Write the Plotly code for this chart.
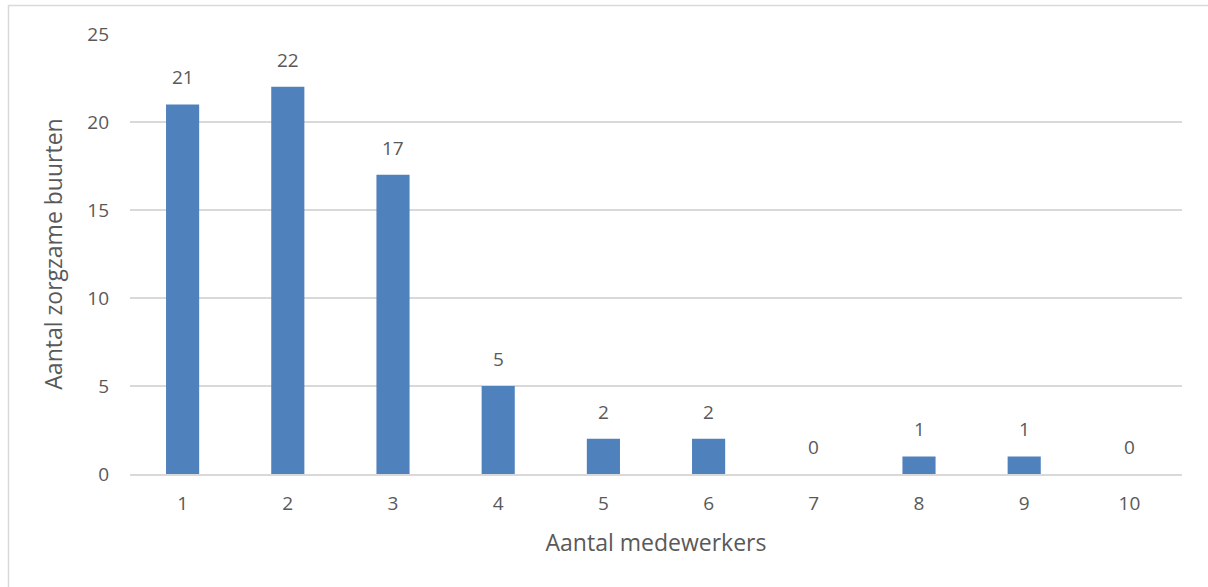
import plotly.graph_objects as go

# Number of staff per caring neighbourhood
medewerkers = ["1", "2", "3", "4", "5", "6", "7", "8", "9", "10"]
aantal_buurten = [21, 22, 17, 5, 2, 2, 0, 1, 1, 0]
y_ticks = [0, 5, 10, 15, 20, 25]

BAR_COLOR = "#4F81BD"
TEXT_COLOR = "#595959"
GRID_COLOR = "#D9D9D9"
FONT = "Open Sans, Noto Sans, sans-serif"

W, H = 1208, 587
ML, MR, MT, MB = 130, 26, 34, 113

fig = go.Figure(
    go.Bar(
        x=medewerkers,
        y=aantal_buurten,
        marker=dict(color=BAR_COLOR, line=dict(width=0)),
        width=0.315,
        hoverinfo="x+y",
    )
)

# value labels above each bar (x given as category index)
for i, val in enumerate(aantal_buurten):
    fig.add_annotation(
        x=i, y=val, text=str(val), showarrow=False,
        yanchor="bottom", yshift=12,
        font=dict(size=19, color=TEXT_COLOR, family=FONT),
    )

# outer chart frame
pw = W - ML - MR
ph = H - MT - MB
fig.add_shape(
    type="rect", xref="paper", yref="paper",
    x0=(8.5 - ML) / pw, x1=(W + 5 - ML) / pw,
    y0=-(H + 5 - MT - ph) / ph, y1=(H - 5.5 - MB) / ph,
    line=dict(color="#D9D9D9", width=1.5), layer="below",
)

fig.update_layout(
    width=W, height=H,
    margin=dict(l=ML, r=MR, t=MT, b=MB),
    plot_bgcolor="white", paper_bgcolor="white",
    showlegend=False,
    font=dict(family=FONT, color=TEXT_COLOR, size=19),
    xaxis=dict(
        title=dict(text="Aantal medewerkers", font=dict(size=23, color=TEXT_COLOR), standoff=20),
        tickfont=dict(size=19, color=TEXT_COLOR),
        range=[-0.5, 9.5],
        showgrid=False, showline=True, linecolor=GRID_COLOR, linewidth=1.5,
        ticks="", ticklabelstandoff=11,
    ),
    yaxis=dict(
        title=dict(text="Aantal zorgzame buurten", font=dict(size=23, color=TEXT_COLOR), standoff=18),
        range=[0, 25], tickvals=y_ticks,
        tickfont=dict(size=19, color=TEXT_COLOR),
        showgrid=True, gridcolor=GRID_COLOR, gridwidth=1.5,
        zeroline=False, showline=False, ticks="", ticklabelstandoff=20,
    ),
)

fig.write_html("out.html")
